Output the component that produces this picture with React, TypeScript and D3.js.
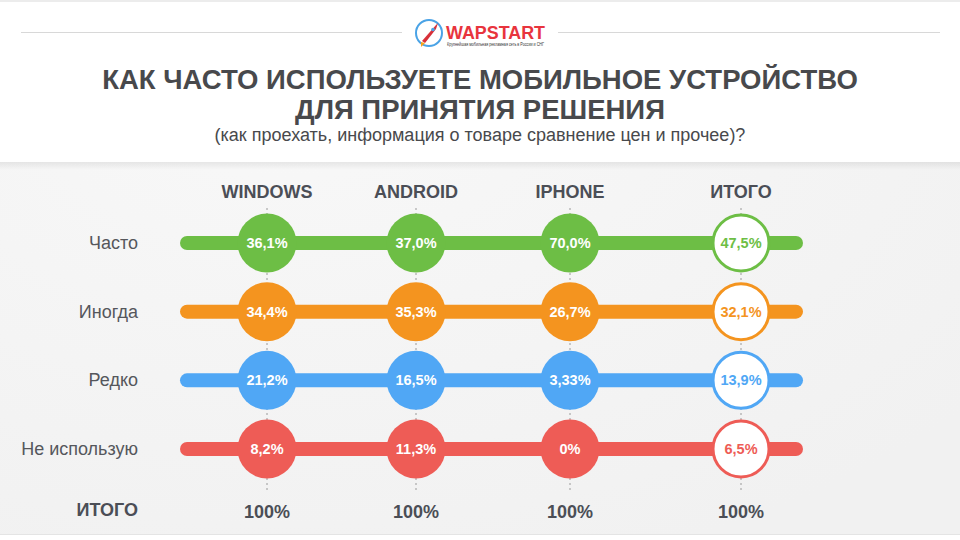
import React from "react";
import * as d3 from "d3";

const columns = ["WINDOWS", "ANDROID", "IPHONE", "ИТОГО"];
const rows = ["Часто", "Иногда", "Редко", "Не использую"];
const rowColors = ["#6dbe45", "#f4941f", "#50a7f5", "#ee5c56"];
const windowsValues = [36.1, 34.4, 21.2, 8.2];
const androidValues = [37.0, 35.3, 16.5, 11.3];
const iphoneValues = [70.0, 26.7, 3.33, 0];
const totalValues = [47.5, 32.1, 13.9, 6.5];
const totalsRow = ["100%", "100%", "100%", "100%"];

const series = [windowsValues, androidValues, iphoneValues, totalValues];

const fmt = (v: number) => {
  if (v === 0) return "0%";
  const s = Math.round(v * 100) % 10 !== 0 ? v.toFixed(2) : v.toFixed(1);
  return s.replace(".", ",") + "%";
};

const W = 960;
const H = 540;
const FONT = "'Liberation Sans', Arial, Helvetica, sans-serif";

export default function App() {
  const x = d3.scaleOrdinal<string, number>().domain(columns).range([267, 416, 570, 741]);
  const y = d3.scalePoint<string>().domain(rows).range([243, 449]);
  const r = 29.5;
  const barX0 = 180;
  const barX1 = 803;
  const barH = 14;
  const textColor = "#4b4e56";

  return (
    <svg width={W} height={H} style={{ position: "absolute", left: 0, top: 0 }} fontFamily={FONT}>
      <defs>
        <radialGradient id="bg" cx="0.3" cy="0.2" r="0.9">
          <stop offset="0" stopColor="#f8f8f8" />
          <stop offset="1" stopColor="#f1f1f1" />
        </radialGradient>
        <linearGradient id="shadow" x1="0" y1="0" x2="0" y2="1">
          <stop offset="0" stopColor="#000" stopOpacity="0.07" />
          <stop offset="1" stopColor="#000" stopOpacity="0" />
        </linearGradient>
        <linearGradient id="rocket" x1="0" y1="0" x2="1" y2="1">
          <stop offset="0" stopColor="#e8424b" />
          <stop offset="1" stopColor="#c9202a" />
        </linearGradient>
      </defs>
      <rect x={0} y={0} width={W} height={H} fill="url(#bg)" />
      <rect x={0} y={0} width={W} height={162} fill="#ffffff" />
      <rect x={0} y={0} width={W} height={2} fill="#ececec" />
      <rect x={0} y={162} width={W} height={8} fill="url(#shadow)" />
      <rect x={0} y={535} width={W} height={5} fill="#ffffff" />
      <line x1={0} x2={W} y1={534.5} y2={534.5} stroke="#e4e4e4" />

      {/* logo */}
      <line x1={21} x2={402} y1={32.5} y2={32.5} stroke="#d8d8d8" />
      <line x1={558} x2={940} y1={32.5} y2={32.5} stroke="#d8d8d8" />
      <g>
        <circle cx={429} cy={33} r={13} fill="#ffffff" stroke="#4aa3e6" strokeWidth={2} />
        <path d="M422,41 L436,25 L438,23 L436,29 L425,43 Z" fill="url(#rocket)" />
        <path d="M421,42 L425,43 L421,47 Z" fill="#f7a21b" />
        <circle cx={433} cy={29.5} r={1.8} fill="#4aa3e6" />
        <text x={446} y={39} fontSize={18} fontWeight="bold" fill="#e8343d" textLength={99} lengthAdjust="spacingAndGlyphs">WAPSTART</text>
        <text x={447} y={46} fontSize={4.5} fill="#333" textLength={97} lengthAdjust="spacingAndGlyphs">Крупнейшая мобильная рекламная сеть в России и СНГ</text>
      </g>

      {/* title */}
      <text x={480} y={89} textAnchor="middle" fontSize={27.5} fontWeight="bold" fill="#48494c">
        КАК ЧАСТО ИСПОЛЬЗУЕТЕ МОБИЛЬНОЕ УСТРОЙСТВО
      </text>
      <text x={480} y={119} textAnchor="middle" fontSize={27.5} fontWeight="bold" fill="#48494c">
        ДЛЯ ПРИНЯТИЯ РЕШЕНИЯ
      </text>
      <text x={480} y={141} textAnchor="middle" fontSize={18} fill="#48494c">
        (как проехать, информация о товаре сравнение цен и прочее)?
      </text>

      {/* column headers */}
      {columns.map((c) => (
        <text key={c} x={x(c)} y={198} textAnchor="middle" fontSize={18} fontWeight="bold" fill={textColor}>
          {c}
        </text>
      ))}

      {/* dashed verticals */}
      {columns.map((c) => (
        <line key={"v" + c} x1={x(c)} x2={x(c)} y1={208} y2={493} stroke="#9a9a9a" strokeDasharray="2,3" />
      ))}

      {/* rows */}
      {rows.map((row, i) => {
        const cy = y(row)!;
        const col = rowColors[i];
        return (
          <g key={row}>
            <text x={138} y={cy + 6} textAnchor="end" fontSize={18} fill="#55575c">
              {row}
            </text>
            <rect x={barX0} y={cy - barH / 2} width={barX1 - barX0} height={barH} rx={barH / 2} fill={col} />
            {columns.map((c, j) => {
              const isTotal = j === columns.length - 1;
              const v = series[j][i];
              return (
                <g key={c}>
                  <circle
                    cx={x(c)}
                    cy={cy}
                    r={isTotal ? r - 1.5 : r}
                    fill={isTotal ? "#ffffff" : col}
                    stroke={isTotal ? col : "none"}
                    strokeWidth={isTotal ? 3 : 0}
                  />
                  <text
                    x={x(c)}
                    y={cy + 5}
                    textAnchor="middle"
                    fontSize={14.5}
                    fontWeight="bold"
                    fill={isTotal ? col : "#ffffff"}
                  >
                    {fmt(v)}
                  </text>
                </g>
              );
            })}
          </g>
        );
      })}

      {/* totals row */}
      <text x={138} y={516} textAnchor="end" fontSize={18} fontWeight="bold" fill={textColor}>
        ИТОГО
      </text>
      {columns.map((c, j) => (
        <text key={"t" + c} x={x(c)} y={518} textAnchor="middle" fontSize={18} fontWeight="bold" fill={textColor}>
          {totalsRow[j]}
        </text>
      ))}
    </svg>
  );
}
